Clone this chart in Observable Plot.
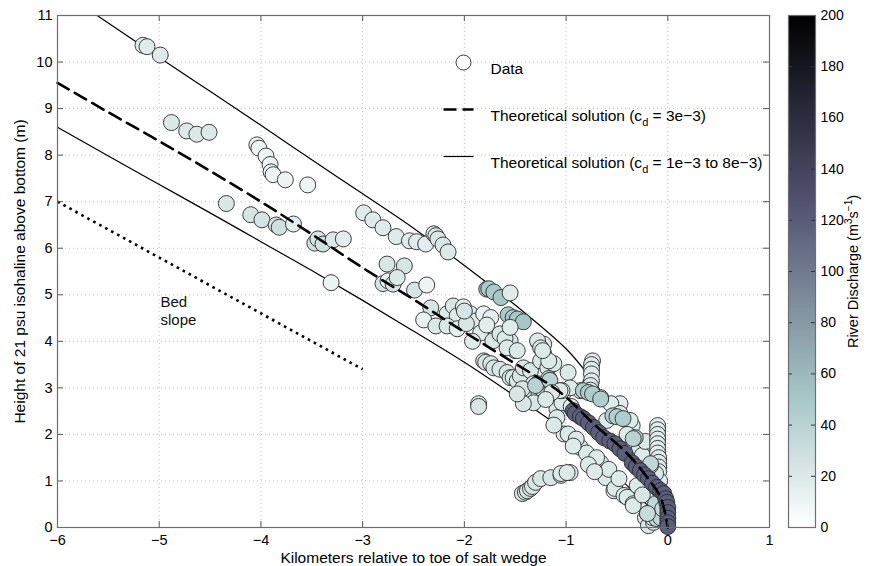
<!DOCTYPE html>
<html><head><meta charset="utf-8">
<script src="https://cdn.jsdelivr.net/npm/d3@7"></script>
<script src="https://cdn.jsdelivr.net/npm/@observablehq/plot@0.6"></script>
<style>
body{margin:0;background:#fff;font-family:"Liberation Sans",Arial,sans-serif;}
#wrap{display:flex;width:869px;height:566px;}
#wrap svg{display:block;}
</style></head><body><div id="wrap"></div>
<script>
// ---- Data (km relative to toe, height above bottom in m, river discharge m3/s)
const kmX = [
-5.16,-5.12,-4.99,-4.88,-4.73,-4.63,-4.51,-4.04,-4.02,-3.95,-3.91,-3.90,-3.88,-3.76,-3.54,-4.34,-4.10,-3.99,-3.85,-3.82,-3.68,-3.47,-3.44,-3.39,-3.29,-3.19,-3.31,
-2.99,-2.90,-2.80,-2.67,-2.54,-2.47,-2.38,-2.30,-2.28,-2.26,-2.21,-2.16,
-2.76,-2.59,-2.80,-2.75,-2.70,-2.66,-2.49,-2.37,
-2.33,-2.40,-2.28,-2.17,-2.11,-2.07,-2.01,-1.94,-1.88,-1.81,-1.74,-2.17,-2.07,-1.84,-1.98,-2.00,-1.78,-1.92,
-1.78,-1.76,-1.71,-1.64,-1.55,-1.57,-1.52,-1.48,-1.42,
-1.27,-1.22,-1.50,-1.58,-1.55,-1.62,-1.72,-1.65,-1.60,-1.55,-1.28,-1.25,-1.22,-1.81,-1.79,-1.74,-1.71,-1.65,-1.58,-1.55,-1.52,-1.48,-1.45,-1.42,-1.35,-1.32,-1.25,-1.25,-1.18,-1.12,-1.09,-1.03,-1.42,-1.43,-1.32,-1.42,-1.48,-1.09,-1.58,-1.48,-1.86,-1.86,-1.28,-1.30,-1.17,-1.16,
-1.43,-1.40,-1.38,-1.35,-1.33,-1.30,-1.25,-1.15,-1.05,-0.96,
-0.47,-0.35,-0.56,-0.66,-0.47,-0.37,-0.35,-0.20,-0.86,-0.76,-0.98,-0.74,-0.96,-1.04,-1.09,-1.04,-1.02,-0.98,-0.86,-0.68,-0.66,-0.63,-0.61,-0.53,-0.52,-0.43,-0.40,-0.34,-0.34,-0.22,-0.20,-0.19,-0.14,-0.15,-1.05,-0.99,-1.17,-1.23,-1.06,-1.14,-0.90,-0.80,-0.70,-0.58,-0.48,-0.30,-0.25,-0.60,-0.28,-0.25,-0.22,-0.40,-1.20,-0.95,-1.12,-0.93,-0.78,-0.72,
-0.10,-0.10,-0.10,-0.10,-0.10,-0.10,-0.10,-0.09,-0.09,-0.09,-0.09,-0.08,-0.12,-0.07,
-0.75,-0.75,-0.75,-0.75,-0.76,-0.76,
-0.83,-0.78,-0.74,-0.66,-0.54,-0.50,-0.44,-0.32,-0.34,-0.17,-0.17,-0.11,-0.11,-0.12,-0.07,-0.05,-0.20,
-0.93,-0.91,-0.86,-0.83,-0.78,-0.73,-0.68,-0.63,-0.57,-0.52,-0.47,-0.42,-0.35,-0.31,-0.27,-0.23,-0.19,-0.15,-0.11,-0.07,-0.04,-0.02,-0.01,0.00,0.00,0.00,0.00,0.00
];
const heightY = [
10.36,10.33,10.15,8.70,8.52,8.45,8.49,8.22,8.15,7.98,7.80,7.64,7.58,7.47,7.36,6.96,6.72,6.61,6.50,6.45,6.52,6.11,6.20,6.09,6.18,6.20,5.26,
6.76,6.61,6.44,6.25,6.16,6.14,6.09,6.31,6.27,6.20,6.07,5.92,
5.66,5.62,5.24,5.30,5.23,5.37,5.10,5.21,
4.72,4.46,4.33,4.59,4.76,4.55,4.74,4.59,4.44,4.59,4.51,4.33,4.27,4.18,4.38,4.65,4.35,4.00,
5.12,5.13,5.06,4.94,5.04,4.57,4.51,4.48,4.42,
3.97,3.94,3.80,4.08,4.01,4.10,4.01,4.16,4.06,4.30,4.01,3.86,3.73,3.58,3.55,3.52,3.43,3.40,3.33,3.22,3.22,3.15,3.26,3.43,3.37,3.09,3.58,3.00,3.43,3.52,2.94,2.88,2.87,2.98,2.68,2.66,2.87,2.55,3.86,3.80,2.66,2.60,3.09,3.05,3.20,3.16,
0.73,0.76,0.79,0.84,0.88,0.97,1.05,1.07,1.12,1.18,
2.66,2.19,2.66,2.79,2.45,2.30,1.93,1.65,2.94,3.09,3.33,3.58,3.00,2.68,2.36,2.94,2.01,2.01,1.72,1.37,1.39,1.16,1.07,0.79,0.84,0.69,0.65,0.51,0.47,0.21,0.30,0.04,0.11,0.21,1.16,1.18,3.58,3.80,2.94,2.90,1.90,1.60,1.50,1.25,1.05,0.90,0.70,2.30,1.70,1.55,1.85,2.00,2.75,2.60,2.20,1.75,1.35,1.20,
2.19,2.10,2.00,1.90,1.80,1.70,1.60,1.50,1.40,1.30,1.20,1.00,1.16,0.73,
3.50,3.40,3.30,3.15,3.05,2.95,
2.94,2.90,2.87,2.76,2.40,2.38,2.34,1.93,1.91,1.33,1.37,0.36,0.19,0.51,0.21,0.40,0.30,
2.51,2.45,2.38,2.34,2.25,2.15,2.04,1.93,1.86,1.80,1.69,1.59,1.39,1.30,1.22,1.13,1.05,0.95,0.86,0.79,0.73,0.62,0.54,0.43,0.32,0.20,0.10,0.02
];
const discharge = [
18,18,18,20,20,20,20,10,10,10,10,10,10,10,10,22,24,24,26,28,16,28,24,28,20,16,10,
18,18,18,18,18,18,16,22,22,22,22,20,
22,24,24,12,24,20,24,10,
24,12,20,20,22,18,16,20,18,12,14,20,14,18,22,24,16,18,
48,48,48,50,18,48,48,50,50,
20,20,22,24,24,20,22,22,20,18,20,22,20,22,22,22,22,22,22,22,20,20,22,24,22,22,22,24,20,20,22,22,24,24,22,22,22,20,20,20,22,22,40,40,40,40,
22,22,22,22,22,22,22,22,22,22,
16,18,18,20,20,18,22,18,20,20,20,18,20,20,20,20,20,20,20,20,20,20,20,20,20,20,20,20,20,20,20,20,20,20,20,20,20,20,20,20,20,20,18,20,18,20,22,18,20,18,20,18,20,18,20,18,20,18,
17,17,17,17,17,17,17,17,17,17,17,17,20,20,
18,18,18,18,18,18,
45,45,45,45,45,42,45,40,40,36,36,36,36,36,36,32,32,
118,118,118,118,118,118,118,118,118,118,118,118,118,118,118,118,118,118,118,118,118,118,118,118,118,118,118,118
];

// Theoretical solutions
const dashX = [-6,-5.5,-5,-4.5,-4,-3.5,-3,-2.5,-2,-1.5,-1.15,-1,-0.73,-0.4,-0.2,-0.07,0];
const dashY = [9.55,8.92,8.3,7.66,7.0,6.3,5.58,4.9,4.2,3.52,3.05,2.8,2.23,1.59,1.07,0.64,0];
const upperX = [-5.61,-5,-4.5,-4,-3.5,-3,-2.5,-2,-1.5,-1,-0.8,-0.6,-0.4,-0.2,-0.1,0];
const upperY = [11.0,10.1,9.37,8.64,7.9,7.17,6.43,5.63,4.78,3.84,3.33,2.76,2.08,1.3,0.78,0];
const lowerX = [-6,-5.5,-5,-4.5,-4,-3.5,-3,-2.5,-2,-1.5,-1.15,-1,-0.8,-0.6,-0.4,-0.2,0];
const lowerY = [8.6,7.98,7.37,6.76,6.14,5.52,4.88,4.22,3.55,2.82,2.3,2.05,1.7,1.3,0.9,0.48,0];
const bedX = [-6,-3];
const bedY = [7.0,3.4];

const xTicks = [-6,-5,-4,-3,-2,-1,0,1];
const yTicks = [0,1,2,3,4,5,6,7,8,9,10,11];
const cbTicks = [0,20,40,60,80,100,120,140,160,180,200];
const legendLabels = ["Data","Theoretical solution (c_d = 3e\u22123)","Theoretical solution (c_d = 1e\u22123 to 8e\u22123)"];

// MATLAB "bone" colormap, reversed for discharge
function clamp01(v){return Math.max(0,Math.min(1,v));}
function bone(t){
  const r=(7*t+clamp01((t-0.75)/0.25))/8, g=(7*t+clamp01((t-0.375)/0.375))/8, b=(7*t+clamp01(t/0.375))/8;
  return d3.rgb(r*255,g*255,b*255).formatHex();
}
const colorOpts = {type:"linear", domain:[0,200], interpolate: t => bone(1-t)};

const pts = kmX.map((x,i)=>({x, y:heightY[i], q:discharge[i]}));
const toPairs = (xs,ys)=>xs.map((x,i)=>({x, y:ys[i]}));
const fmt = d => d < 0 ? "\u2212" + Math.abs(d) : String(d);
const font = "Liberation Sans, Arial, Helvetica, sans-serif";
const lineSym = {draw(ctx){ctx.moveTo(-15,0);ctx.lineTo(15,0);}};

const W = 780, H = 566, ML = 57, MR = 11, MT = 15, MB = 39;
const PW = W-ML-MR, PH = H-MT-MB;

const main = Plot.plot({
  width: W, height: H, marginLeft: ML, marginRight: MR, marginTop: MT, marginBottom: MB,
  style: {fontFamily: font, fontSize: "15px", color: "#000", background: "#fff"},
  x: {domain: [-6, 1]},
  y: {domain: [0, 11]},
  color: colorOpts,
  marks: [
    Plot.gridX(xTicks, {stroke: "#bdbdbd", strokeOpacity: 1, strokeDasharray: "1,3"}),
    Plot.gridY(yTicks, {stroke: "#bdbdbd", strokeOpacity: 1, strokeDasharray: "1,3"}),
    Plot.line(toPairs(upperX, upperY), {x: "x", y: "y", stroke: "#000", strokeWidth: 1.2, curve: "catmull-rom", clip: true}),
    Plot.line(toPairs(lowerX, lowerY), {x: "x", y: "y", stroke: "#000", strokeWidth: 1.2, curve: "catmull-rom", clip: true}),
    Plot.line(toPairs(bedX, bedY), {x: "x", y: "y", stroke: "#000", strokeWidth: 2.6, strokeDasharray: "2.6,4.2", strokeLinecap: "butt"}),
    Plot.dot(pts, {x: "x", y: "y", r: 8, fill: "q", stroke: "#2a2a2a", strokeWidth: 0.9}),
    Plot.line(toPairs(dashX, dashY), {x: "x", y: "y", stroke: "#000", strokeWidth: 2.6, strokeDasharray: "13,7", curve: "catmull-rom"}),
    Plot.text(["Bed\nslope"], {frameAnchor: "top-left", dx: 103, dy: 279, textAnchor: "start", fontSize: 15, lineHeight: 1.2, fill: "#111"}),
    // legend
    Plot.dot([0], {frameAnchor: "top-left", dx: 406, dy: 47, r: 7.5, fill: "#fff", stroke: "#222", strokeWidth: 0.9}),
    Plot.dot([0], {frameAnchor: "top-left", dx: 401, dy: 94, symbol: lineSym, fill: "none", stroke: "#000", strokeWidth: 2.6, strokeDasharray: "13,6"}),
    Plot.dot([0], {frameAnchor: "top-left", dx: 401, dy: 141, symbol: lineSym, fill: "none", stroke: "#000", strokeWidth: 1.2}),
    Plot.text([legendLabels[0]], {frameAnchor: "top-left", dx: 433, dy: 47, textAnchor: "start", fontSize: 15.5}),
    Plot.text([legendLabels[1]], {frameAnchor: "top-left", dx: 433, dy: 94, textAnchor: "start", fontSize: 15.5}),
    Plot.text([legendLabels[2]], {frameAnchor: "top-left", dx: 433, dy: 141, textAnchor: "start", fontSize: 15.5}),
    // inward ticks on all four sides
    Plot.tickX(xTicks, {x: d => d, insetTop: PH - 6, stroke: "#555"}),
    Plot.tickX(xTicks, {x: d => d, insetBottom: PH - 6, stroke: "#555"}),
    Plot.tickY(yTicks, {y: d => d, insetRight: PW - 6, stroke: "#555"}),
    Plot.tickY(yTicks, {y: d => d, insetLeft: PW - 6, stroke: "#555"}),
    Plot.frame({stroke: "#6e6e6e", strokeWidth: 1.2}),
    Plot.axisX({ticks: xTicks, tickSize: 0, tickPadding: 7, tickFormat: fmt, label: null, fontSize: 14.5}),
    Plot.axisY({ticks: yTicks, tickSize: 0, tickPadding: 5, tickFormat: fmt, label: null, fontSize: 14.5}),
    Plot.text(["Kilometers relative to toe of salt wedge"], {frameAnchor: "bottom", dy: 31, lineAnchor: "middle", textAnchor: "middle", fontSize: 15.5}),
    Plot.text(["Height of 21 psu isohaline above bottom (m)"], {frameAnchor: "left", dx: -37, rotate: -90, textAnchor: "middle", lineAnchor: "middle", fontSize: 15.5})
  ]
});

const cbSteps = d3.range(0, 200, 0.5);
const cb = Plot.plot({
  width: 89, height: H, marginLeft: 8, marginRight: 54, marginTop: MT, marginBottom: MB,
  style: {fontFamily: font, fontSize: "14px", color: "#000", background: "#fff"},
  x: {domain: [0, 1], axis: null},
  y: {domain: [0, 200], axis: null},
  color: colorOpts,
  marks: [
    Plot.rect(cbSteps, {x1: 0, x2: 1, y1: d => d, y2: d => d + 0.6, fill: d => d + 0.25, shapeRendering: "crispEdges"}),
    Plot.tickY(cbTicks, {y: d => d, insetRight: 23, stroke: "#333"}),
    Plot.tickY(cbTicks, {y: d => d, insetLeft: 23, stroke: "#333"}),
    Plot.frame({stroke: "#6e6e6e", strokeWidth: 1.2}),
    Plot.axisY({anchor: "right", ticks: cbTicks, tickSize: 0, tickPadding: 5, label: null, fontSize: 14}),
    Plot.text(["River Discharge (m^3s^-1)"], {frameAnchor: "right", dx: 38, rotate: -90, textAnchor: "middle", lineAnchor: "middle", fontSize: 14.5})
  ]
});

function fixScripts(svg){
  svg.querySelectorAll("text").forEach(t => {
    const s = t.textContent;
    const ns = "http://www.w3.org/2000/svg";
    const mk = (txt, attrs) => { const e = document.createElementNS(ns, "tspan"); e.textContent = txt; for (const k in attrs) e.setAttribute(k, attrs[k]); return e; };
    if (s.includes("c_d")) {
      const [a, b] = s.split("c_d");
      t.textContent = "";
      t.appendChild(mk(a + "c", {}));
      t.appendChild(mk("d", {dy: "5", "font-size": "11"}));
      t.appendChild(mk(b, {dy: "-5"}));
    } else if (s.includes("m^3s^-1")) {
      t.textContent = "";
      t.appendChild(mk("River Discharge (m", {}));
      t.appendChild(mk("3", {dy: "-6", "font-size": "10"}));
      t.appendChild(mk("s", {dy: "6"}));
      t.appendChild(mk("\u22121", {dy: "-6", "font-size": "10"}));
      t.appendChild(mk(")", {dy: "6"}));
    }
  });
}
fixScripts(main); fixScripts(cb);
document.getElementById("wrap").append(main, cb);
</script></body></html>
